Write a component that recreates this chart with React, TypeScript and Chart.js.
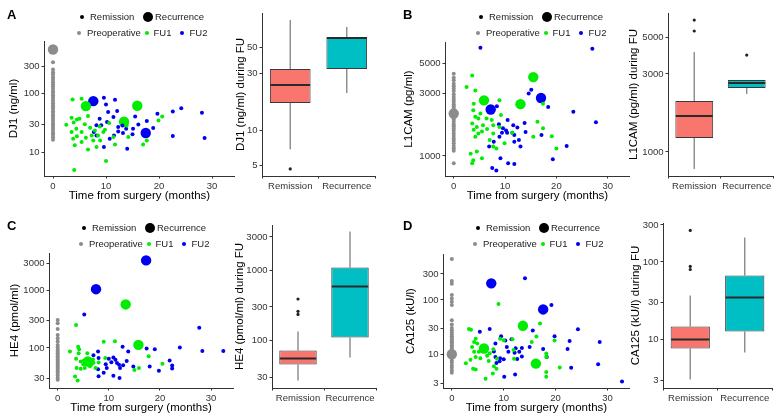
import React, { useEffect, useRef } from 'react';
import { Chart, registerables } from 'chart.js';

Chart.register(...registerables);

const FONT = "'Liberation Sans', Arial, Helvetica, sans-serif";
const GREY = '#8c8c8c';
const GREEN = '#00ec00';
const BLUE = '#0000f0';
const REM_FILL = '#F8766D';
const REC_FILL = '#00BFC4';
const AXIS = '#333333';
const TICK_TEXT = '#333333';

// ---------- shared ----------
const X_RANGE = [-1.7, 34.3];
const X_TICKS = [0, 10, 20, 30];
const X_TITLE = 'Time from surgery (months)';
const GROUPS = ['Remission', 'Recurrence'];

// ---------- Panel A : DJ1 ----------
const A_PRE = [349, 261, 235, 214, 193, 174, 158, 145, 134, 122, 111, 103, 94, 88, 81, 75, 69, 63, 59, 55, 50, 47, 43, 40, 37, 34, 31, 29, 27, 25, 23, 21, 19.5, 18, 16.3];
const A_PRE_REC = [576];
const A_FU1 = [[3.7, 80], [5.4, 82], [3.5, 38.8], [5.0, 37.3], [4.5, 36], [6.6, 41.4], [2.5, 29.4], [3.9, 32.2], [4.4, 25.1], [3.5, 22], [5.4, 22], [3.8, 16.9], [4.5, 18.6], [4.1, 13], [5.4, 14.8], [6.2, 17.6], [6.6, 11], [7.6, 15.8], [8.2, 12.2], [8.8, 27.5], [9.5, 22], [8.5, 19.3], [7.9, 23.5], [8.9, 15.8], [10, 7], [4.0, 4.9], [10.6, 31.4], [11.7, 13.5], [11.4, 18.1], [7.3, 19.3], [13.9, 28.6], [14.2, 18.1], [17, 13.5], [17.7, 15.8], [19.9, 34.9], [20.6, 40.8], [7.0, 26], [6.0, 30], [9.8, 24]];
const A_FU1_REC = [[6.2, 61.4], [15.9, 62.2], [13.4, 33.1]];
const A_FU2 = [[9.6, 85.4], [11.7, 78.9], [10, 65.6], [10.4, 48.5], [12.1, 50.5], [11.4, 39.8], [8.8, 37.3], [8.2, 28.8], [10.2, 32.7], [9.1, 28.8], [12.3, 26.8], [13.1, 28.6], [13.8, 25.1], [12.3, 22.6], [13.2, 21.2], [11.5, 19.3], [10.7, 16.9], [9.6, 12.2], [8.2, 19.3], [7.7, 22], [14, 11.4], [15.5, 40.8], [17.7, 34], [15.1, 25.1], [16.1, 29.8], [15, 20.1], [18.9, 25.8], [19.7, 45.4], [22.6, 49.8], [24.2, 56.7], [28.1, 47.2], [28.6, 17.4], [22.6, 18.8]];
const A_FU2_REC = [[7.6, 74.8], [17.5, 21.2]];
const A_Y_RANGE = [3.87, 807];
const A_Y_TICKS = [10, 30, 100, 300];
const A_BOX_RANGE = [4.1, 96.8];
const A_BOX_TICKS = [5, 10, 30, 50];
const A_LOW = [6.9, 20.5];
const A_Q1 = [16.9, 32.7];
const A_MED = [23.9, 59.6];
const A_Q3 = [32.7, 60.7];
const A_HIGH = [84.5, 73.8];
const A_OUT = [[4.7], []];

// ---------- Panel B : L1CAM ----------
const B_PRE = [4198, 3917, 3740, 3530, 3370, 3236, 3106, 2933, 2801, 2675, 2570, 2466, 2382, 2287, 2198, 2037, 1956, 1889, 1815, 1742, 1683, 1617, 1552, 1483, 1416, 1359, 1305, 1246, 1190, 1143, 1097, 881];
const B_PRE_REC = [2096];
const B_FU1 = [[3.6, 4080], [2.5, 3330], [4.2, 3140], [3.9, 2490], [3.8, 2220], [5.2, 2100], [4.2, 1980], [4.8, 1920], [3.6, 1760], [4.5, 1660], [5.7, 1710], [6.4, 1920], [5.5, 1530], [4.8, 1480], [4.2, 1400], [7.4, 1870], [7.7, 1710], [8.9, 2640], [9.2, 2040], [8.9, 1660], [7.7, 1480], [7.0, 1320], [7.7, 1180], [8.3, 1140], [5.5, 960], [3.6, 880], [3.8, 930], [3.3, 1040], [4.5, 1080], [9.9, 1250], [11.4, 1500], [17.4, 2490], [17.4, 1620], [15.5, 1400], [19.1, 1410], [20, 1140], [16.3, 1820], [6.5, 1600], [3.9, 1580]];
const B_FU1_REC = [[5.9, 2640], [13, 2470], [15.5, 3960]];
const B_FU2 = [[5.2, 6600], [27, 6480], [15.1, 3180], [14.6, 2970], [18.4, 2350], [8.4, 2380], [10.5, 1870], [9.6, 1620], [8.8, 1740], [9.4, 1500], [11.6, 1710], [12.4, 1640], [10.4, 1500], [11.4, 1500], [11.8, 1440], [13.8, 1780], [12.7, 1320], [11.8, 1280], [13, 1180], [8.9, 1400], [6.9, 1180], [7.8, 1280], [9.1, 960], [10.6, 880], [11.8, 870], [7.5, 810], [8.3, 775], [19.3, 945], [22, 1190], [23.3, 2160], [27.7, 1800], [14, 1520], [17.1, 1440], [10.2, 1560]];
const B_FU2_REC = [[7.2, 2250], [17, 2750]];
const B_Y_RANGE = [705, 7305];
const B_Y_TICKS = [1000, 3000, 5000];
const B_BOX_RANGE = [713, 7080];
const B_BOX_TICKS = [1000, 3000, 5000];
const B_LOW = [787, 2265];
const B_Q1 = [1218, 2461];
const B_MED = [1660, 2642];
const B_Q3 = [2051, 2754];
const B_HIGH = [4093, 2754];
const B_OUT = [[6412, 5495], [3916]];

// ---------- Panel C : HE4 ----------
const C_PRE = [306, 268, 214, 168, 147, 129, 113, 102, 92.6, 86.7, 81.1, 75.9, 71.1, 66.5, 62.2, 58.2, 54.5, 51, 47.7, 44.7, 41.8, 39.1, 36.6, 33.3, 30, 28.1];
const C_PRE_REC = [];
const C_FU1 = [[3.6, 251], [2.4, 86.8], [4.0, 105], [4.1, 81.2], [3.6, 64.7], [4.5, 58.2], [5.1, 59.6], [3.7, 44.8], [4.5, 43.6], [5.3, 44.8], [3.4, 32], [3.9, 27.1], [5.8, 81.2], [6.9, 62.9], [6.6, 51.2], [9, 128], [11.2, 131], [8, 56], [9.3, 66.5], [7.4, 44.8], [17.8, 71.8], [15.9, 44.8], [15, 41.2], [20.5, 53.2], [4.2, 95], [6.3, 48], [5.0, 52], [7.0, 55]];
const C_FU1_REC = [[13.3, 571], [15.8, 113], [5.9, 58.2]];
const C_FU2 = [[5.2, 383], [27.7, 225], [23.9, 101.6], [28.3, 88.1], [32.4, 88.1], [19, 95], [17.4, 98], [13.8, 86.8], [12.7, 105], [7.9, 86.8], [7.0, 74.5], [8.0, 66.5], [10, 64.7], [10.5, 56.1], [10.9, 68.3], [11.6, 54.5], [12, 51.2], [12.2, 44.8], [9.6, 44.8], [7.9, 42.4], [9, 36.9], [8, 32.2], [10.9, 32.9], [12.1, 30], [14.8, 47.4], [18, 47.4], [19.8, 40.1], [21.9, 60.6], [22.4, 49.3], [22.4, 43.8], [13.5, 59.4], [12.8, 50], [9.4, 52], [11.3, 62]];
const C_FU2_REC = [[7.5, 1052], [17.3, 3334]];
const C_Y_RANGE = [20.1, 4480];
const C_Y_TICKS = [30, 100, 300, 1000, 3000];
const C_BOX_RANGE = [20.9, 4450];
const C_BOX_TICKS = [30, 100, 300, 1000, 3000];
const C_LOW = [26.8, 57];
const C_Q1 = [45.4, 110];
const C_MED = [55, 591];
const C_Q3 = [72, 1104];
const C_HIGH = [134, 3606];
const C_OUT = [[390, 260, 235], []];

// ---------- Panel D : CA125 ----------
const D_PRE = [566, 223, 199, 123, 107, 92.9, 80.6, 42.7, 35.6, 30.8, 27.9, 25.3, 23.3, 21.7, 20.2, 18.8, 17.5, 16.6, 15.7, 14.8, 13.8, 12.9, 12, 11.2, 9.4, 8.7, 7.8, 7.1, 6.3, 5.7, 5.1, 4.65];
const D_PRE_REC = [10.1];
const D_FU1 = [[9.0, 84.1], [17, 37.1], [3.3, 29.4], [3.7, 28.5], [4.6, 19.4], [4.3, 16.9], [4.9, 15.9], [3.9, 13.8], [4.3, 11.2], [5.2, 11.2], [4.6, 9.0], [5.5, 8.5], [3.6, 8.0], [4.1, 5.5], [4.6, 5.3], [2.7, 6.9], [6.5, 3.6], [7.1, 7.6], [8.1, 6.1], [8.6, 5.5], [7.9, 4.5], [8.7, 8.4], [10, 18.2], [9.3, 19.4], [11.9, 12.1], [12, 8.4], [11.7, 19], [15.4, 16.9], [16.3, 21.4], [18.2, 10.4], [18.2, 9.0], [18.2, 4.8], [18.2, 3.9], [19.8, 18.1], [20.8, 5.8], [7.3, 10.5], [8.0, 12.5], [5.8, 14], [6.8, 9.5]];
const D_FU1_REC = [[13.7, 33.6], [16.2, 6.8], [6.2, 12.9]];
const D_FU2 = [[14.1, 250], [19.2, 80.7], [24.3, 29.2], [15.6, 27.6], [5.4, 26.1], [7.3, 29.4], [9.5, 21.7], [19.8, 21.7], [22.7, 17.7], [28.5, 16.9], [8.4, 16], [10.6, 13.8], [10.3, 18], [11.5, 19], [8.1, 11.4], [8.4, 9.0], [9.3, 8.5], [10, 8.2], [10.9, 11.2], [12.1, 10.8], [12.3, 13], [13, 11.2], [13.5, 13.2], [12.6, 8.3], [13.5, 9.2], [15, 13.8], [17.6, 12.6], [18.3, 9.0], [22.3, 12.6], [23, 5.7], [28.2, 6.6], [32.8, 3.2], [10.1, 3.9], [12.2, 4.3], [8.6, 7], [9.2, 7.5]];
const D_FU2_REC = [[7.6, 202], [17.6, 67.1]];
const D_Y_RANGE = [2.43, 698];
const D_Y_TICKS = [3, 10, 30, 100, 300];
const D_BOX_RANGE = [2.37, 318];
const D_BOX_TICKS = [3, 10, 30, 100, 300];
const D_LOW = [3.05, 6.8];
const D_Q1 = [7.65, 12.7];
const D_MED = [10, 34.8];
const D_Q3 = [14.7, 67];
const D_HIGH = [37, 207];
const D_OUT = [[255, 87.5, 80], []];

// ---------- helpers ----------
const TITLE_SIZE = 11.5;
const TICK_SIZE = 9.5;
const HALF_LINE = (TITLE_SIZE * 1.2) / 2;

function setTicks(values) {
  return (scale) => {
    scale.ticks = values.map((v) => ({ value: v }));
  };
}

function axisCommon(extra) {
  return {
    grid: { drawOnChartArea: false, drawTicks: true, tickLength: 2.5, color: AXIS, lineWidth: 1 },
    border: { display: true, color: AXIS, width: 1 },
    ...extra,
  };
}

function geometry(g) {
  return {
    padTop: g.plotTop - g.top,
    padRight: g.left + g.width - g.plotRight,
    yWidth: g.plotLeft - g.left,
    xHeight: g.top + g.height - g.plotBottom,
    yTitlePad: Math.max(0, g.yTitleX - g.left - HALF_LINE),
    xTitlePad: g.xTitleY ? Math.max(0, g.top + g.height - g.xTitleY - HALF_LINE) : 0,
  };
}

function ptsOf(arr) {
  return arr.map((p) => ({ x: p[0], y: p[1] }));
}

function ScatterPanel(props) {
  const ref = useRef(null);
  useEffect(() => {
    const g = props.geo;
    const m = geometry(g);
    const small = 2;
    const big = 5.2;
    const ds = (data, color, r) => ({
      data,
      backgroundColor: color,
      borderWidth: 0,
      pointRadius: r,
      pointHoverRadius: r,
    });
    const chart = new Chart(ref.current, {
      type: 'scatter',
      data: {
        datasets: [
          ds(props.pre.map((v) => ({ x: 0, y: v })), GREY, small),
          ds(ptsOf(props.fu1), GREEN, small),
          ds(ptsOf(props.fu2), BLUE, small),
          ds(props.preRec.map((v) => ({ x: 0, y: v })), GREY, big),
          ds(ptsOf(props.fu1Rec), GREEN, big),
          ds(ptsOf(props.fu2Rec), BLUE, big),
        ],
      },
      options: {
        animation: false,
        responsive: false,
        maintainAspectRatio: false,
        devicePixelRatio: 1,
        layout: { padding: { top: m.padTop, right: m.padRight, left: 0, bottom: 0 } },
        plugins: { legend: { display: false }, tooltip: { enabled: false } },
        scales: {
          x: axisCommon({
            type: 'linear',
            min: X_RANGE[0],
            max: X_RANGE[1],
            afterBuildTicks: setTicks(X_TICKS),
            afterFit: (s) => { s.height = m.xHeight; },
            ticks: { font: { family: FONT, size: TICK_SIZE }, color: TICK_TEXT, padding: 2, autoSkip: false, maxRotation: 0, minRotation: 0, callback: (v) => String(v) },
            title: { display: true, text: X_TITLE, color: '#000', font: { family: FONT, size: TITLE_SIZE }, padding: { top: 0, bottom: m.xTitlePad } },
          }),
          y: axisCommon({
            type: 'logarithmic',
            min: props.yRange[0],
            max: props.yRange[1],
            afterBuildTicks: setTicks(props.yTicks),
            afterFit: (s) => { s.width = m.yWidth; },
            ticks: { font: { family: FONT, size: TICK_SIZE }, color: TICK_TEXT, padding: 2, autoSkip: false, callback: (v) => String(v) },
            title: { display: true, text: props.yTitle, color: '#000', font: { family: FONT, size: TITLE_SIZE }, padding: { top: m.yTitlePad, bottom: 0 } },
          }),
        },
      },
    });
    return () => chart.destroy();
  }, []);
  const g = props.geo;
  return (
    <canvas
      ref={ref}
      width={g.width}
      height={g.height}
      style={{ position: 'absolute', left: g.left, top: g.top, width: g.width, height: g.height }}
    />
  );
}

function makeBoxPlugin(low, q1, med, q3, high, out) {
  return {
    id: 'boxParts',
    beforeDatasetsDraw(chart) {
      const ctx = chart.ctx;
      const xs = chart.scales.x;
      const ys = chart.scales.y;
      ctx.save();
      ctx.strokeStyle = '#8a8a8a';
      ctx.lineWidth = 1.4;
      for (let i = 0; i < q1.length; i++) {
        const x = xs.getPixelForValue(i);
        ctx.beginPath();
        ctx.moveTo(x, ys.getPixelForValue(high[i]));
        ctx.lineTo(x, ys.getPixelForValue(q3[i]));
        ctx.moveTo(x, ys.getPixelForValue(q1[i]));
        ctx.lineTo(x, ys.getPixelForValue(low[i]));
        ctx.stroke();
      }
      ctx.restore();
    },
    afterDatasetsDraw(chart) {
      const ctx = chart.ctx;
      const ys = chart.scales.y;
      const meta = chart.getDatasetMeta(0);
      ctx.save();
      for (let i = 0; i < q1.length; i++) {
        const bar = meta.data[i];
        const x = bar.x;
        const w = bar.width;
        const ym = ys.getPixelForValue(med[i]);
        ctx.strokeStyle = '#2a2a2a';
        ctx.lineWidth = 2;
        ctx.beginPath();
        ctx.moveTo(x - w / 2 + 0.5, ym);
        ctx.lineTo(x + w / 2 - 0.5, ym);
        ctx.stroke();
        ctx.fillStyle = '#222';
        for (const v of out[i]) {
          ctx.beginPath();
          ctx.arc(x, ys.getPixelForValue(v), 1.6, 0, Math.PI * 2);
          ctx.fill();
        }
      }
      ctx.restore();
    },
  };
}

function BoxPanel(props) {
  const ref = useRef(null);
  useEffect(() => {
    const g = props.geo;
    const m = geometry(g);
    const chart = new Chart(ref.current, {
      type: 'bar',
      data: {
        labels: GROUPS,
        datasets: [
          {
            data: props.q1.map((v, i) => [v, props.q3[i]]),
            backgroundColor: [REM_FILL, REC_FILL],
            borderColor: '#3a3a3a',
            borderWidth: 1,
            borderSkipped: false,
            barPercentage: 0.72,
            categoryPercentage: 1,
          },
        ],
      },
      options: {
        animation: false,
        responsive: false,
        maintainAspectRatio: false,
        devicePixelRatio: 1,
        layout: { padding: { top: m.padTop, right: m.padRight, left: 0, bottom: 0 } },
        plugins: { legend: { display: false }, tooltip: { enabled: false } },
        scales: {
          x: axisCommon({
            type: 'category',
            offset: true,
            afterFit: (s) => { s.height = m.xHeight; },
            ticks: { font: { family: FONT, size: TICK_SIZE }, color: TICK_TEXT, padding: 2, autoSkip: false, maxRotation: 0, minRotation: 0 },
          }),
          y: axisCommon({
            type: 'logarithmic',
            min: props.yRange[0],
            max: props.yRange[1],
            afterBuildTicks: setTicks(props.yTicks),
            afterFit: (s) => { s.width = m.yWidth; },
            ticks: { font: { family: FONT, size: TICK_SIZE }, color: TICK_TEXT, padding: 2, autoSkip: false, callback: (v) => String(v) },
            title: { display: true, text: props.yTitle, color: '#000', font: { family: FONT, size: TITLE_SIZE }, padding: { top: m.yTitlePad, bottom: 0 } },
          }),
        },
      },
      plugins: [makeBoxPlugin(props.low, props.q1, props.med, props.q3, props.high, props.out)],
    });
    return () => chart.destroy();
  }, []);
  const g = props.geo;
  return (
    <canvas
      ref={ref}
      width={g.width}
      height={g.height}
      style={{ position: 'absolute', left: g.left, top: g.top, width: g.width, height: g.height }}
    />
  );
}

function Legend({ dx, dy }) {
  const items = [
    { cx: 82, cy: 17, r: 2, color: '#000', tx: 90, label: 'Remission' },
    { cx: 148, cy: 17, r: 5, color: '#000', tx: 155, label: 'Recurrence' },
    { cx: 79, cy: 33, r: 2, color: GREY, tx: 87, label: 'Preoperative' },
    { cx: 147, cy: 33, r: 2, color: GREEN, tx: 153.5, label: 'FU1' },
    { cx: 182, cy: 33, r: 2, color: BLUE, tx: 189.5, label: 'FU2' },
  ];
  return (
    <>
      {items.map((it, i) => (
        <React.Fragment key={i}>
          <div
            style={{
              position: 'absolute',
              left: dx + it.cx - it.r,
              top: dy + it.cy - it.r,
              width: it.r * 2,
              height: it.r * 2,
              borderRadius: '50%',
              background: it.color,
            }}
          />
          <div
            style={{
              position: 'absolute',
              left: dx + it.tx,
              top: dy + it.cy - 6.5,
              fontFamily: FONT,
              fontSize: 9.5,
              lineHeight: '12px',
              color: '#222',
              whiteSpace: 'nowrap',
            }}
          >
            {it.label}
          </div>
        </React.Fragment>
      ))}
    </>
  );
}

function Letter({ x, y, text }) {
  return (
    <div
      style={{
        position: 'absolute',
        left: x,
        top: y,
        fontFamily: FONT,
        fontWeight: 'bold',
        fontSize: 13,
        lineHeight: '13px',
        color: '#000',
      }}
    >
      {text}
    </div>
  );
}

export default function App() {
  return (
    <div style={{ position: 'absolute', left: 0, top: 0, width: 779, height: 420, background: '#fff', overflow: 'hidden' }}>
      <ScatterPanel
        geo={{ left: 0, top: 0, width: 240, height: 205, plotLeft: 44, plotTop: 41, plotRight: 235, plotBottom: 176, yTitleX: 13.5, xTitleY: 196 }}
        yTitle="DJ1 (ng/ml)" yRange={A_Y_RANGE} yTicks={A_Y_TICKS}
        pre={A_PRE} preRec={A_PRE_REC} fu1={A_FU1} fu1Rec={A_FU1_REC} fu2={A_FU2} fu2Rec={A_FU2_REC}
      />
      <BoxPanel
        geo={{ left: 228, top: 0, width: 152, height: 205, plotLeft: 262, plotTop: 13, plotRight: 375, plotBottom: 176, yTitleX: 241 }}
        yTitle="DJ1 (ng/ml) during FU" yRange={A_BOX_RANGE} yTicks={A_BOX_TICKS}
        low={A_LOW} q1={A_Q1} med={A_MED} q3={A_Q3} high={A_HIGH} out={A_OUT}
      />
      <ScatterPanel
        geo={{ left: 395, top: 0, width: 240, height: 205, plotLeft: 445, plotTop: 42, plotRight: 630, plotBottom: 176, yTitleX: 408.5, xTitleY: 196 }}
        yTitle="L1CAM (pg/ml)" yRange={B_Y_RANGE} yTicks={B_Y_TICKS}
        pre={B_PRE} preRec={B_PRE_REC} fu1={B_FU1} fu1Rec={B_FU1_REC} fu2={B_FU2} fu2Rec={B_FU2_REC}
      />
      <BoxPanel
        geo={{ left: 620, top: 0, width: 159, height: 205, plotLeft: 668, plotTop: 13, plotRight: 773, plotBottom: 176, yTitleX: 634 }}
        yTitle="L1CAM (pg/ml) during FU" yRange={B_BOX_RANGE} yTicks={B_BOX_TICKS}
        low={B_LOW} q1={B_Q1} med={B_MED} q3={B_Q3} high={B_HIGH} out={B_OUT}
      />
      <ScatterPanel
        geo={{ left: 0, top: 205, width: 240, height: 215, plotLeft: 49, plotTop: 253, plotRight: 233, plotBottom: 388, yTitleX: 15, xTitleY: 407.5 }}
        yTitle="HE4 (pmol/ml)" yRange={C_Y_RANGE} yTicks={C_Y_TICKS}
        pre={C_PRE} preRec={C_PRE_REC} fu1={C_FU1} fu1Rec={C_FU1_REC} fu2={C_FU2} fu2Rec={C_FU2_REC}
      />
      <BoxPanel
        geo={{ left: 227, top: 205, width: 153, height: 215, plotLeft: 272, plotTop: 225, plotRight: 376, plotBottom: 388, yTitleX: 240 }}
        yTitle="HE4 (pmol/ml) during FU" yRange={C_BOX_RANGE} yTicks={C_BOX_TICKS}
        low={C_LOW} q1={C_Q1} med={C_MED} q3={C_Q3} high={C_HIGH} out={C_OUT}
      />
      <ScatterPanel
        geo={{ left: 395, top: 205, width: 240, height: 215, plotLeft: 443, plotTop: 254, plotRight: 630, plotBottom: 388, yTitleX: 411, xTitleY: 407.5 }}
        yTitle="CA125 (kU/l)" yRange={D_Y_RANGE} yTicks={D_Y_TICKS}
        pre={D_PRE} preRec={D_PRE_REC} fu1={D_FU1} fu1Rec={D_FU1_REC} fu2={D_FU2} fu2Rec={D_FU2_REC}
      />
      <BoxPanel
        geo={{ left: 620, top: 205, width: 159, height: 215, plotLeft: 663, plotTop: 223, plotRight: 772, plotBottom: 388, yTitleX: 636 }}
        yTitle="CA125 (kU/l) during FU" yRange={D_BOX_RANGE} yTicks={D_BOX_TICKS}
        low={D_LOW} q1={D_Q1} med={D_MED} q3={D_Q3} high={D_HIGH} out={D_OUT}
      />
      <Legend dx={0} dy={0} />
      <Legend dx={399} dy={0} />
      <Legend dx={2} dy={211.3} />
      <Legend dx={396} dy={211} />
      <Letter x={7} y={8.3} text="A" />
      <Letter x={403} y={8.3} text="B" />
      <Letter x={7} y={218.5} text="C" />
      <Letter x={403} y={218.5} text="D" />
    </div>
  );
}
